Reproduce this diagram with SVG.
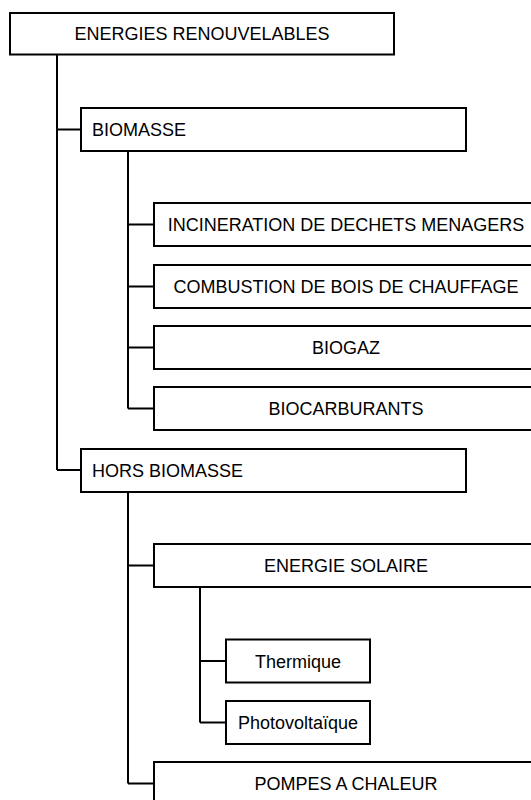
<svg xmlns="http://www.w3.org/2000/svg" width="531" height="800" viewBox="0 0 531 800">
<style>
rect.n{fill:#fff;stroke:#000;stroke-width:2}
text{font-family:"Liberation Sans",Arial,sans-serif;font-size:18px;fill:#000}
text.c{text-anchor:middle}
.e path{fill:none;stroke:#000;stroke-width:2}
</style>
<rect width="531" height="800" fill="#fff"/>
<g class="e" id="connectors">
<path d="M57 54V470M57 129.5H81M57 470H81"/>
<path d="M128 151V408.5M128 224.5H154M128 286.5H154M128 347.5H154M128 408.5H154"/>
<path d="M128 492V783.5M128 565.5H154M128 783.5H154"/>
<path d="M200 587V722.5M200 661H226M200 722.5H226"/>
</g>
<g id="root"><rect class="n" x="10" y="13" width="384" height="41.5"/><text class="c" x="202" y="40">ENERGIES RENOUVELABLES</text></g>
<g id="biomasse"><rect class="n" x="81" y="108" width="385" height="43"/><text x="92" y="136">BIOMASSE</text></g>
<g id="incineration"><rect class="n" x="154" y="203" width="384" height="43"/><text class="c" x="346" y="231">INCINERATION DE DECHETS MENAGERS</text></g>
<g id="combustion"><rect class="n" x="154" y="265" width="384" height="43"/><text class="c" x="346" y="293">COMBUSTION DE BOIS DE CHAUFFAGE</text></g>
<g id="biogaz"><rect class="n" x="154" y="326" width="384" height="43"/><text class="c" x="346" y="354">BIOGAZ</text></g>
<g id="biocarburants"><rect class="n" x="154" y="387" width="384" height="43"/><text class="c" x="346" y="415">BIOCARBURANTS</text></g>
<g id="hors-biomasse"><rect class="n" x="81" y="449" width="385" height="43"/><text x="92" y="477">HORS BIOMASSE</text></g>
<g id="energie-solaire"><rect class="n" x="154" y="544" width="384" height="43"/><text class="c" x="346" y="572">ENERGIE SOLAIRE</text></g>
<g id="thermique"><rect class="n" x="226" y="639.5" width="144" height="43"/><text class="c" x="298" y="667.5">Thermique</text></g>
<g id="photovoltaique"><rect class="n" x="226" y="701" width="144" height="43"/><text class="c" x="298" y="729">Photovoltaïque</text></g>
<g id="pompes"><rect class="n" x="154" y="762" width="384" height="43"/><text class="c" x="346" y="790">POMPES A CHALEUR</text></g>
</svg>
